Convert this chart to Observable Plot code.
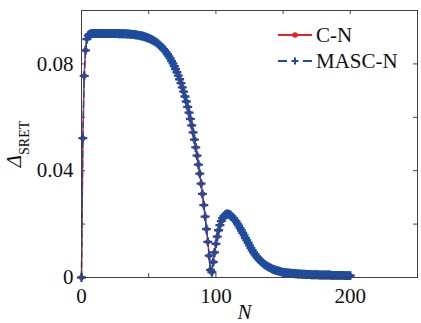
<!DOCTYPE html>
<html><head><meta charset="utf-8">
<script src="https://cdn.jsdelivr.net/npm/d3@7"></script>
<script src="https://cdn.jsdelivr.net/npm/@observablehq/plot@0.6"></script>
<style>
html,body{margin:0;padding:0;background:#fff;}
#wrap{width:421px;height:323px;}
#wrap svg, #wrap svg text, #wrap svg tspan { font-family: "Liberation Serif", "DejaVu Serif", serif !important; }
</style></head><body><div id="wrap"></div>
<script>
// ---- data ----
const seriesNames = ["C-N", "MASC-N"];
// Delta_SRET for N = 0,1,2,...,200
const cN = [
  0, 0.0522, 0.0755, 0.0851, 0.0893, 0.0906, 0.0911, 0.0913, 0.0914, 0.0914,          // 0-9
  0.0914, 0.0914, 0.0914, 0.0914, 0.0914, 0.0914, 0.0914, 0.0914, 0.0914, 0.0914,   // 10-19
  0.0914, 0.0914, 0.0914, 0.0914, 0.0914, 0.0914, 0.0914, 0.0914, 0.0913, 0.0913,   // 20-29
  0.09132, 0.09130, 0.09128, 0.09126, 0.09123, 0.09119, 0.09115, 0.09111, 0.09106, 0.09100, // 30-39
  0.09094, 0.09086, 0.09078, 0.09068, 0.09058, 0.09046, 0.09033, 0.09018, 0.09002, 0.08983, // 40-49
  0.08963, 0.08940, 0.08916, 0.08889, 0.08860, 0.08826, 0.08791, 0.08751, 0.08709, 0.08662, // 50-59
  0.08612, 0.08556, 0.08498, 0.08431, 0.08362, 0.08284, 0.08204, 0.08114, 0.08022, 0.07917, // 60-69
  0.07809, 0.07688, 0.07563, 0.07425, 0.07282, 0.07124, 0.06960, 0.06779, 0.06592, 0.06387, // 70-79
  0.06175, 0.05941, 0.05700, 0.05437, 0.05166, 0.04870, 0.04564, 0.04231, 0.03887, 0.03514, // 80-89
  0.03129, 0.02711, 0.02280, 0.01814, 0.01335, 0.00817, 0.00288, 0.0020, 0.0058, 0.0094,    // 90-99
  0.0126, 0.0153, 0.0177, 0.0196, 0.0211, 0.0222, 0.0230, 0.0235, 0.0238, 0.0238,   // 100-109
  0.0236, 0.0233, 0.0228, 0.0222, 0.0216, 0.0210, 0.0202, 0.0194, 0.0185, 0.0176,   // 110-119
  0.0167, 0.0158, 0.0148, 0.0139, 0.0130, 0.0120, 0.0111, 0.0102, 0.0094, 0.0087,   // 120-129
  0.0080, 0.0074, 0.0068, 0.0063, 0.0058, 0.0054, 0.0050, 0.0046, 0.0043, 0.0040,   // 130-139
  0.0037, 0.0035, 0.0032, 0.0030, 0.0028, 0.0026, 0.0025, 0.0023, 0.0022, 0.0021,   // 140-149
  0.0019, 0.0018, 0.0018, 0.0017, 0.0017, 0.0016, 0.0016, 0.0015, 0.0015, 0.0014,   // 150-159
  0.0014, 0.0013, 0.0013, 0.0013, 0.0012, 0.0012, 0.0012, 0.0011, 0.0011, 0.0011,   // 160-169
  0.0011, 0.0010, 0.0010, 0.0010, 0.0010, 0.0010, 0.0010, 0.0009, 0.0009, 0.0009,   // 170-179
  0.0009, 0.0009, 0.0009, 0.0009, 0.0009, 0.0009, 0.0008, 0.0008, 0.0008, 0.0008,   // 180-189
  0.0008, 0.0008, 0.0008, 0.0008, 0.0008, 0.0008, 0.0007, 0.0007, 0.0007, 0.0007,   // 190-199
  0.0007                                                                             // 200
];
// MASC-N coincides with C-N everywhere in the picture
const mascN = cN.slice();

const xTicks = [0, 50, 100, 150, 200, 250];
const xLabels = [0, 100, 200];
const yTicks = [0, 0.02, 0.04, 0.06, 0.08, 0.1];
const yLabels = [0, 0.04, 0.08];

const red = "#e5222a";
const blue = "#1f4c9d";
const axisColor = "#404040";

const rowsC = cN.map((v, i) => ({N: i, v}));
const rowsM = mascN.map((v, i) => ({N: i, v}));

const W = 421, H = 323, mL = 81, mR = 4, mT = 10, mB = 46;
const pw = W - mL - mR, ph = H - mT - mB;

const chart = Plot.plot({
  width: W, height: H,
  marginLeft: mL, marginRight: mR, marginTop: mT, marginBottom: mB,
  style: {fontSize: "21px", background: "#fff", color: "#111"},
  x: {domain: [0, 250], label: null},
  y: {domain: [0, 0.1], label: null},
  marks: [
    // inward ticks on all four sides
    Plot.tickX(xTicks, {x: d => d, insetTop: ph - 4, stroke: axisColor}),
    Plot.tickX(xTicks, {x: d => d, insetBottom: ph - 4, stroke: axisColor}),
    Plot.tickY(yTicks, {y: d => d, insetRight: pw - 4, stroke: axisColor}),
    Plot.tickY(yTicks, {y: d => d, insetLeft: pw - 4, stroke: axisColor}),
    Plot.axisX(xLabels, {tickSize: 0, tickPadding: 11, label: null, tickFormat: d => String(d), fill: "#111"}),
    Plot.axisY(yLabels, {tickSize: 0, tickPadding: 8, label: null, tickFormat: d => d === 0 ? "0" : d.toFixed(2), fill: "#111"}),
    Plot.text(["N"], {frameAnchor: "bottom", dy: 41, dx: -5, text: d => d, fontStyle: "italic", fontSize: 21, fill: "#111"}),
    // C-N
    Plot.line(rowsC, {x: "N", y: "v", stroke: red, strokeWidth: 1.5}),
    Plot.dot(rowsC, {x: "N", y: "v", r: 2.7, fill: red, stroke: "none"}),
    // MASC-N
    Plot.line(rowsM, {x: "N", y: "v", stroke: blue, strokeWidth: 1.5, strokeDasharray: "6,4"}),
    Plot.dot(rowsM, {x: "N", y: "v", symbol: "plus", r: 3, stroke: blue, strokeWidth: 2.3}),
    Plot.frame({stroke: axisColor, strokeWidth: 1})
  ]
});

const svg = d3.select(chart);
// y axis label: Δ with subscript SRET
const yl = svg.append("text")
  .attr("transform", "translate(21,144) rotate(-90)")
  .attr("text-anchor", "middle")
  .attr("fill", "#111");
yl.append("tspan").attr("font-style", "italic").attr("font-size", 21).text("Δ");
yl.append("tspan").attr("font-size", 14).attr("dy", 8).text("SRET");

// legend
const lg = svg.append("g").attr("font-size", 21).attr("fill", "#111").attr("text-anchor", "start");
const items = [
  {name: seriesNames[0], y: 35, color: red, dash: null, sym: "dot"},
  {name: seriesNames[1], y: 61, color: blue, dash: "9,16,9", sym: "plus"}
];
items.forEach(it => {
  lg.append("line").attr("x1", 278).attr("x2", 312).attr("y1", it.y).attr("y2", it.y)
    .attr("stroke", it.color).attr("stroke-width", 2)
    .attr("stroke-dasharray", it.dash);
  if (it.sym === "dot") {
    lg.append("circle").attr("cx", 295).attr("cy", it.y).attr("r", 2.8).attr("fill", it.color);
  } else {
    lg.append("path").attr("d", `M291.5,${it.y}H298.5M295,${it.y - 3.5}V${it.y + 3.5}`)
      .attr("stroke", it.color).attr("stroke-width", 2);
  }
  lg.append("text").attr("x", 316).attr("y", it.y).attr("dy", "0.35em").attr("text-anchor", "start").text(it.name);
});

document.getElementById("wrap").appendChild(chart);
</script>
</body></html>
